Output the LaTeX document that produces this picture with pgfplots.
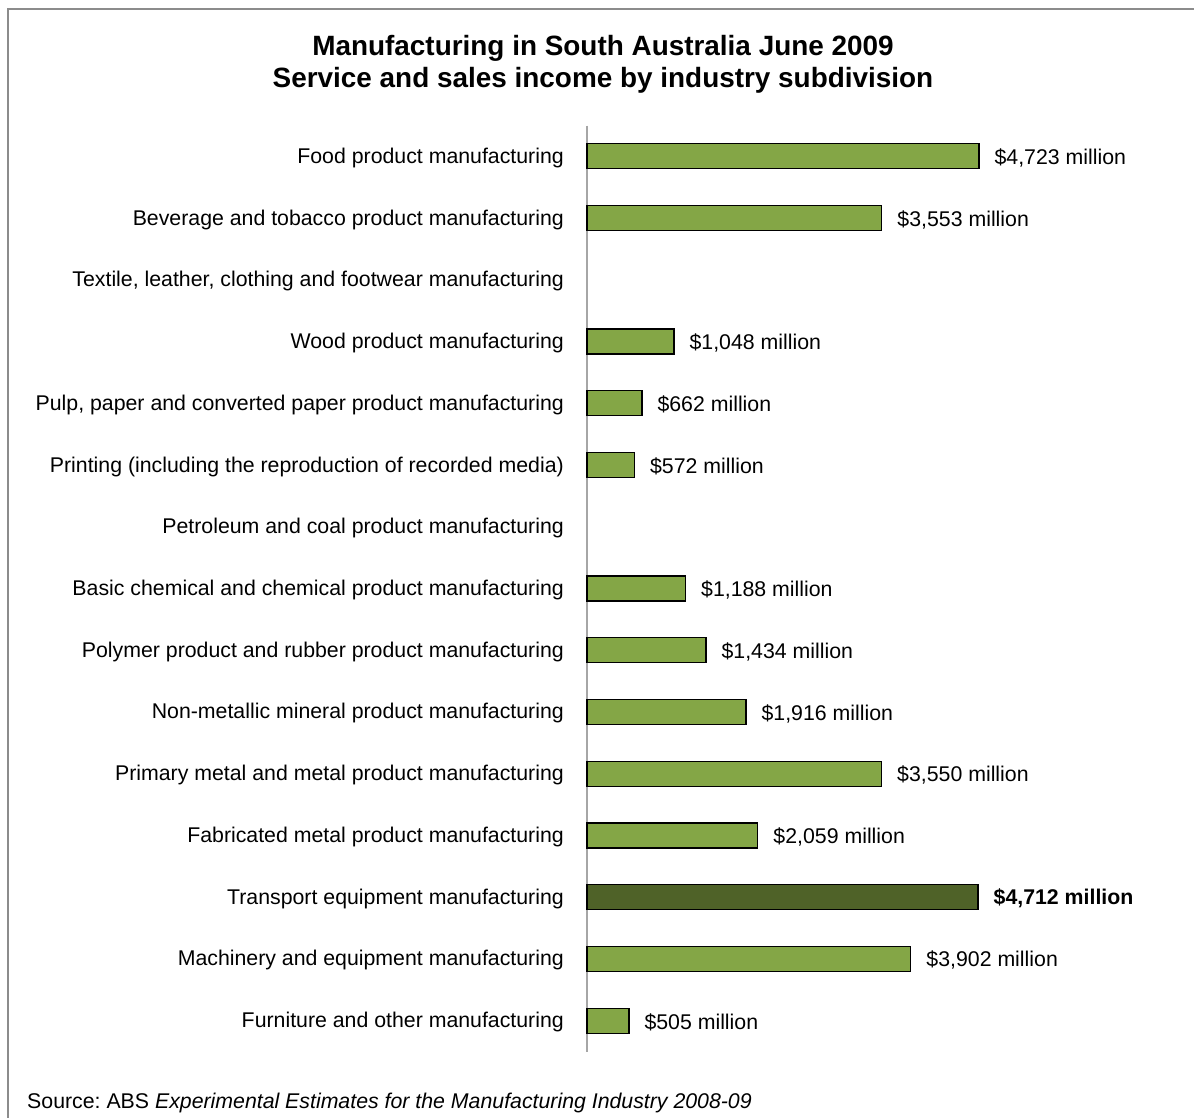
\documentclass[border=0pt]{standalone}
\usepackage{fontspec}
\setmainfont{Liberation Sans}
\usepackage{pgfplots}
\pgfplotsset{compat=1.18}

\definecolor{barfill}{HTML}{84A646}
\definecolor{bardark}{HTML}{4F6228}
\definecolor{frame}{HTML}{8C8C8C}

\begin{document}
\frenchspacing
\begin{tikzpicture}
\path[use as bounding box] (0pt,0pt) rectangle (1194pt,-1117pt);
\draw[frame, line width=1.5pt] (8pt,-1120pt) -- (8pt,-9pt) -- (1200pt,-9pt);

\node[align=center, font=\bfseries\fontsize{27.9}{32}\selectfont] at (603pt,-64pt)
  {Manufacturing in South Australia June 2009\\Service and sales income by industry subdivision};

\begin{axis}[
    at={(587pt,-125.5pt)}, anchor=north west,
    scale only axis,
    width=498pt, height=926pt,
    xmin=0, xmax=6000,
    ymin=-0.5, ymax=14.5,
    y dir=reverse,
    axis x line=none,
    axis y line=left,
    axis line style={-, draw=gray!70, line width=1.5pt},
    ytick={0,...,14},
    major tick length=0pt,
    yticklabel style={anchor=east, inner sep=0pt, xshift=-23pt, yshift=-1.5pt},
    yticklabels={
        {Food product manufacturing},
        {Beverage and tobacco product manufacturing},
        {Textile, leather, clothing and footwear manufacturing},
        {Wood product manufacturing},
        {Pulp, paper and converted paper product manufacturing},
        {Printing (including the reproduction of recorded media)},
        {Petroleum and coal product manufacturing},
        {Basic chemical and chemical product manufacturing},
        {Polymer product and rubber product manufacturing},
        {Non-metallic mineral product manufacturing},
        {Primary metal and metal product manufacturing},
        {Fabricated metal product manufacturing},
        {Transport equipment manufacturing},
        {Machinery and equipment manufacturing},
        {Furniture and other manufacturing}
    },
    font=\fontsize{21.3}{25}\selectfont,
    xbar, bar width=25pt, bar shift=0pt,
    clip=false,
    point meta=explicit symbolic,
    nodes near coords,
    every node near coord/.append style={anchor=west, inner sep=0pt, xshift=15pt, yshift=-1.5pt},
]
\addplot[fill=barfill, draw=black, line width=1.2pt] coordinates {
    (4723,0) [\$4,723 million]
    (3553,1) [\$3,553 million]
    (1048,3) [\$1,048 million]
    (662,4) [\$662 million]
    (572,5) [\$572 million]
    (1188,7) [\$1,188 million]
    (1434,8) [\$1,434 million]
    (1916,9) [\$1,916 million]
    (3550,10) [\$3,550 million]
    (2059,11) [\$2,059 million]
    (3902,13) [\$3,902 million]
    (505,14) [\$505 million]
};
% highlighted subdivision
\addplot[fill=bardark, draw=black, line width=1.2pt,
    every node near coord/.append style={font=\fontsize{21.3}{25}\selectfont\bfseries}] coordinates {
    (4712,12) [\$4,712 million]
};
\end{axis}

\node[anchor=west, inner sep=0pt, font=\fontsize{21.3}{25}\selectfont] at (27pt,-1103pt)
  {Source: ABS \textit{Experimental Estimates for the Manufacturing Industry 2008-09}};
\end{tikzpicture}
\end{document}
